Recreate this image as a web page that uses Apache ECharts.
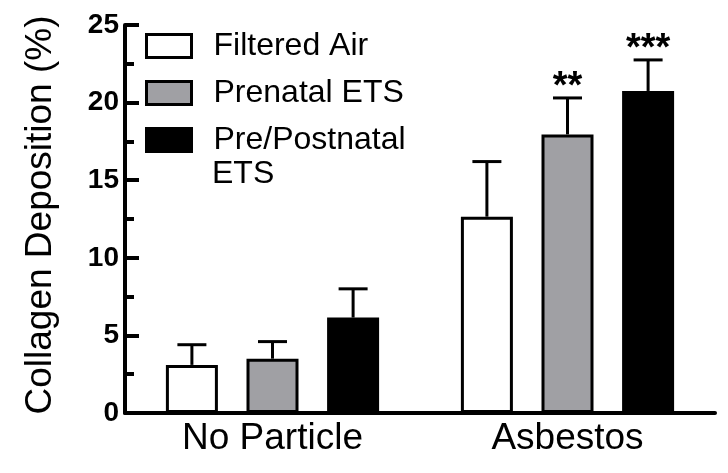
<!DOCTYPE html>
<html>
<head>
<meta charset="utf-8">
<script src="https://cdn.jsdelivr.net/npm/echarts@6/dist/echarts.min.js"></script>
<style>
html, body { margin: 0; padding: 0; background: #fff; }
#chart { width: 728px; height: 473px; }
</style>
</head>
<body>
<div id="chart"></div>
<script>
// data
const categories = ['No Particle', 'Asbestos'];
const groups = ['Filtered Air', 'Prenatal ETS', 'Pre/Postnatal ETS'];
const filteredAir = [3.1, 12.65];
const prenatalETS = [3.5, 17.95];
const prePostnatalETS = [6.15, 20.75];
// upper error (SEM) for each bar
const filteredAirErr = [1.3, 3.55];
const prenatalETSErr = [1.1, 2.35];
const prePostnatalETSErr = [1.85, 2.0];
// significance marks over each bar
const filteredAirSig = ['', ''];
const prenatalETSSig = ['', '**'];
const prePostnatalETSSig = ['', '***'];
const yTicks = [0, 5, 10, 15, 20, 25];

const font = "'Liberation Sans', Arial, sans-serif";
const fills = ['#ffffff', '#a0a0a4', '#000000'];
const BAR_W = 52;
const GAP = 0.55;

let means = [filteredAir, prenatalETS, prePostnatalETS];
let errs = [filteredAirErr, prenatalETSErr, prePostnatalETSErr];
let sigs = [filteredAirSig, prenatalETSSig, prePostnatalETSSig];

let errData = [];
for (let g = 0; g < groups.length; g++) {
    for (let c = 0; c < categories.length; c++) {
        errData.push([c, g, means[g][c], means[g][c] + errs[g][c], sigs[g][c]]);
    }
}

let barSeries = groups.map((name, i) => ({
    name: name,
    type: 'bar',
    data: means[i],
    barWidth: BAR_W,
    barGap: (GAP * 100) + '%',
    itemStyle: { color: fills[i], borderColor: '#000', borderWidth: 3 },
    z: 2
}));

let errorSeries = {
    type: 'custom',
    data: errData,
    encode: { x: 0, y: [2, 3] },
    z: 3,
    renderItem: function (params, api) {
        let cat = api.value(0);
        let grp = api.value(1);
        let top = api.coord([cat, api.value(2)]);
        let cap = api.coord([cat, api.value(3)]);
        let step = BAR_W * (1 + GAP);
        let x = top[0] + (grp - 1) * step;
        let stroke = { stroke: '#000', lineWidth: 3 };
        let children = [
            { type: 'line', shape: { x1: x, y1: top[1], x2: x, y2: cap[1] }, style: stroke },
            { type: 'line', shape: { x1: x - 14.5, y1: cap[1], x2: x + 14.5, y2: cap[1] }, style: stroke }
        ];
        let sig = errData[params.dataIndex][4];
        if (sig) {
            children.push({
                type: 'text',
                style: {
                    text: sig, x: x, y: cap[1] + 9,
                    align: 'center', verticalAlign: 'bottom',
                    font: 'bold 38px ' + font, fill: '#000'
                }
            });
        }
        return { type: 'group', children: children };
    }
};

let chart = echarts.init(document.getElementById('chart'));
chart.setOption({
    animation: false,
    backgroundColor: '#fff',
    grid: { left: 125, right: 13, top: 25, bottom: 60 },
    legend: {
        orient: 'vertical',
        left: 145,
        top: 30,
        padding: 0,
        icon: 'rect',
        itemWidth: 45,
        itemHeight: 23,
        itemGap: 15,
        selectedMode: false,
        itemStyle: { borderColor: '#000', borderWidth: 3 },
        textStyle: {
            fontSize: 32, fontFamily: font, color: '#000',
            lineHeight: 30, padding: [0, 0, 0, 17]
        },
        data: groups,
        // the last name wraps; its second line is added as a graphic below
        formatter: name => name === groups[2] ? 'Pre/Postnatal' : name
    },
    graphic: [{
        type: 'text',
        left: 212,
        top: 158,
        style: { text: 'ETS', font: '32px ' + font, fill: '#000' }
    }],
    xAxis: {
        type: 'category',
        data: categories,
        axisLine: { lineStyle: { color: '#000', width: 4 } },
        axisTick: { show: false },
        axisLabel: { fontSize: 37, fontFamily: font, color: '#000', margin: 7 }
    },
    yAxis: {
        type: 'value',
        min: yTicks[0],
        max: yTicks[yTicks.length - 1],
        interval: yTicks[1] - yTicks[0],
        name: 'Collagen Deposition (%)',
        nameLocation: 'middle',
        nameRotate: 90,
        nameGap: 66,
        nameTextStyle: { fontSize: 37, fontFamily: font, color: '#000', padding: [0, 0, 0, 8] },
        axisLine: { show: true, lineStyle: { color: '#000', width: 4 } },
        axisTick: { show: true, inside: true, length: 14, lineStyle: { color: '#000', width: 4 } },
        minorTick: { show: true, splitNumber: 2, length: 9, lineStyle: { color: '#000', width: 4 } },
        axisLabel: { fontSize: 28, fontWeight: 'bold', fontFamily: font, color: '#000', margin: 6 },
        splitLine: { show: false }
    },
    series: [...barSeries, errorSeries]
});
</script>
</body>
</html>
